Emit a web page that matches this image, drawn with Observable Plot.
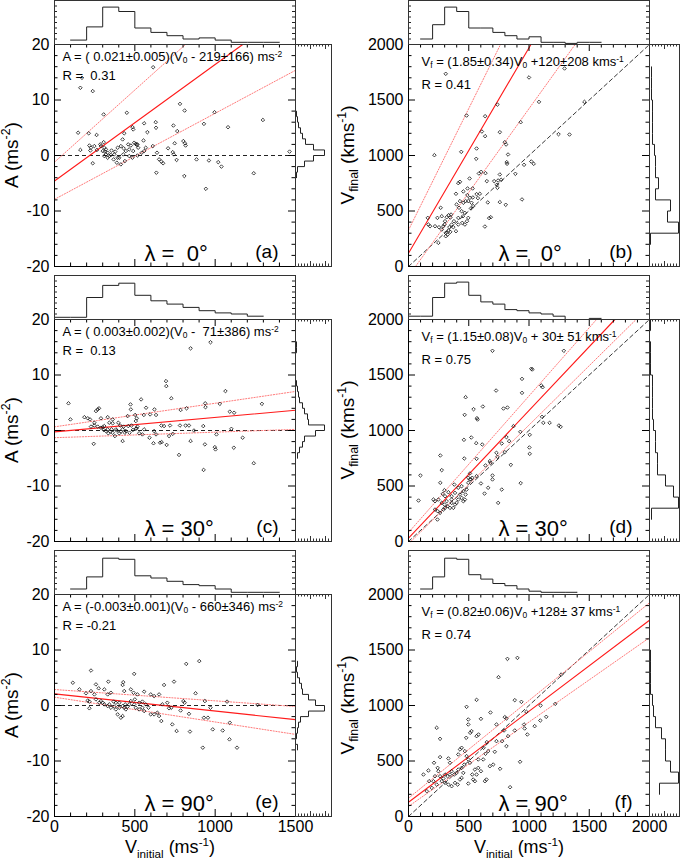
<!DOCTYPE html>
<html><head><meta charset="utf-8">
<script src="https://cdn.jsdelivr.net/npm/d3@7"></script>
<script src="https://cdn.jsdelivr.net/npm/@observablehq/plot@0.6"></script>
<style>
body{margin:0;background:#fff;}
#fig{position:relative;width:685px;height:859px;overflow:hidden;font-family:"Liberation Sans",Arial,Helvetica,sans-serif;color:#000;background:#fff;}
#fig svg{position:absolute;overflow:visible;background:transparent;}
.lab{position:absolute;white-space:nowrap;font-size:19px;line-height:1;transform:translate(-50%,-50%);}
.lab.xt{font-size:18px;}
.rot{transform:translate(-50%,-50%) rotate(-90deg);}
.lab sub,.lab sup{font-size:65%;line-height:0;}
</style></head><body><div id="fig"></div><script>
// ---------------- DATA ----------------
// scatter points [V_initial, value]
const pts_a = [[171,14.0],[161,12.2],[238,11.6],[614,15.9],[306,7.4],[450,7.7],[781,9.3],[810,8.1],[996,7.8],[1297,6.4],[147,4.1],[213,4.0],[262,3.7],[161,1.0],[217,1.8],[238,-1.4],[930,5.7],[1080,5.1],[1463,0.7],[558,5.8],[630,6.0],[486,5.1],[490,4.7],[740,5.4],[764,4.4],[632,5.0],[578,4.2],[434,4.0],[554,2.7],[424,2.9],[802,2.6],[812,2.2],[816,1.8],[748,2.2],[707,1.3],[736,0.6],[742,0.2],[760,-0.8],[638,0.5],[612,1.7],[651,-0.7],[665,-1.1],[676,-1.4],[634,-3.1],[808,-3.7],[884,-0.7],[961,-0.9],[1019,-1.2],[1039,-2.0],[942,-6.0],[1240,-3.2],[516,2.0],[506,2.1],[512,1.9],[475,1.8],[465,1.1],[490,0.8],[558,0.8],[543,0.5],[516,0.0],[485,-0.4],[465,-0.1],[438,-1.0],[413,-1.6],[388,-1.3],[403,-0.4],[428,0.2],[444,0.8],[372,0.2],[351,0.1],[331,-0.4],[314,0.7],[310,1.4],[320,1.1],[300,0.8],[289,1.7],[306,2.4],[285,2.0],[264,1.0],[248,1.7],[227,1.4],[223,0.9],[320,0.2],[331,0.5],[341,-0.1],[310,-0.1],[355,0.9],[378,0.7],[393,1.4],[413,1.7],[430,1.3],[459,2.0],[496,2.3],[521,1.4],[568,1.4],[393,-0.4],[368,-0.7]];
const pts_b = [[309,1736],[1000,1703],[1295,1784],[1083,1483],[1460,1483],[738,1459],[482,1360],[636,1354],[931,1300],[609,1216],[636,1174],[758,1210],[799,1120],[810,1099],[1245,1192],[1336,1189],[215,1003],[438,1033],[565,1063],[826,1009],[562,970],[815,940],[818,925],[1019,946],[1039,925],[959,916],[887,835],[603,853],[639,841],[584,838],[507,793],[427,763],[413,751],[650,769],[758,829],[711,769],[744,775],[733,736],[769,781],[738,709],[490,703],[532,703],[455,676],[394,655],[565,652],[592,655],[488,643],[510,619],[534,622],[576,616],[758,580],[658,577],[807,556],[942,604],[683,444],[669,436],[634,360],[485,408],[452,453],[496,438],[468,483],[441,498],[419,529],[399,559],[427,589],[455,574],[474,589],[496,589],[523,574],[537,544],[518,523],[413,438],[377,408],[358,378],[347,441],[353,468],[333,462],[317,444],[303,408],[276,453],[267,529],[240,438],[220,363],[179,363],[160,438],[165,378],[253,354],[276,333],[289,363],[309,303],[325,288],[331,324],[347,312],[309,273],[248,213],[372,354],[394,318],[413,378],[446,393],[468,378],[339,354],[298,378]];
const pts_c = [[847,14.8],[971,15.9],[87,4.9],[99,2.0],[694,8.9],[696,8.0],[727,5.8],[539,5.6],[473,4.7],[570,4.1],[622,3.8],[785,3.7],[822,4.0],[938,4.9],[940,4.2],[1029,4.8],[1064,7.1],[1091,3.4],[1118,3.2],[1291,4.8],[277,4.0],[269,3.8],[258,3.5],[186,2.4],[207,2.2],[221,2.0],[289,2.2],[331,2.4],[362,2.0],[455,2.6],[502,2.8],[506,1.7],[512,2.2],[595,2.9],[556,2.8],[632,2.8],[475,3.8],[244,-2.4],[424,-1.9],[616,-2.3],[657,-2.2],[667,-2.1],[698,-2.6],[713,-1.0],[736,-0.6],[775,-4.4],[847,-1.9],[936,-2.5],[998,-3.0],[1002,-3.4],[1116,-3.1],[1171,-1.3],[928,-7.1],[1240,-5.9],[1008,-0.7],[1101,0.3],[665,0.9],[682,0.8],[719,0.9],[781,0.9],[816,0.9],[837,0.9],[868,0.0],[926,0.8],[620,-0.1],[632,-0.7],[591,-1.3],[558,0.2],[547,-0.7],[527,-0.5],[516,0.7],[506,0.3],[488,0.1],[510,0.4],[479,0.9],[459,0.8],[444,-0.1],[438,-0.4],[424,0.2],[413,-0.2],[403,-0.5],[388,0.0],[376,-1.0],[382,0.2],[362,-0.4],[347,-0.2],[331,0.2],[320,-0.1],[306,0.1],[300,0.6],[310,0.8],[289,0.5],[269,0.7],[248,0.9],[227,0.7],[335,-0.5],[355,0.2],[430,0.7],[409,0.9],[397,1.4],[362,1.3],[341,1.4],[248,1.4],[467,-0.4]];
const pts_d = [[697,1718],[1289,1718],[1019,1556],[1028,1550],[942,1465],[1102,1405],[1113,1390],[942,1339],[727,1360],[474,1300],[540,1192],[617,1216],[788,1198],[821,1207],[466,1141],[568,1111],[573,1099],[871,1039],[1108,1123],[1119,1069],[1171,1069],[1248,1045],[1262,1033],[928,988],[1006,961],[813,940],[521,937],[460,916],[562,886],[612,874],[774,883],[835,904],[1003,847],[1006,790],[264,775],[463,748],[565,745],[675,724],[680,709],[639,685],[730,799],[738,763],[799,805],[849,691],[276,643],[99,595],[510,613],[518,559],[565,589],[601,523],[697,595],[697,559],[631,432],[661,484],[744,348],[774,468],[931,526],[264,529],[83,369],[240,198],[298,462],[284,429],[303,408],[331,444],[358,408],[386,438],[380,513],[413,484],[441,498],[455,453],[482,468],[496,529],[474,423],[427,423],[413,378],[399,348],[358,348],[344,303],[325,318],[303,303],[276,348],[248,378],[220,363],[207,378],[220,288],[242,273],[262,258],[289,288],[317,363],[358,378],[372,303],[386,333],[441,393],[455,363],[510,559],[529,574],[496,574],[468,378],[298,333]];
const pts_e = [[820,7.5],[901,8.0],[227,6.3],[496,5.7],[114,4.1],[258,3.8],[335,4.3],[428,4.2],[558,2.5],[682,3.7],[744,4.3],[878,2.2],[1074,0.7],[1264,0.1],[155,2.9],[196,2.2],[227,2.6],[248,2.0],[275,3.1],[310,2.9],[331,2.0],[351,2.3],[424,3.7],[434,2.6],[475,2.9],[492,2.3],[516,2.0],[599,2.0],[620,1.7],[651,2.0],[217,0.7],[207,0.9],[217,-0.5],[300,0.5],[310,0.2],[331,-0.1],[341,0.2],[351,-0.4],[372,-0.2],[382,-0.7],[393,-1.6],[413,-2.2],[424,-1.9],[403,-0.4],[434,-0.4],[444,-0.7],[455,-0.2],[465,0.2],[475,0.8],[500,1.1],[506,-0.4],[527,-0.7],[547,-0.4],[568,0.2],[585,-0.4],[599,-1.6],[620,-1.6],[640,-1.3],[651,-1.9],[665,-2.8],[713,-0.5],[727,-0.4],[733,-3.4],[760,-4.6],[785,-0.9],[802,0.8],[810,0.5],[837,-1.5],[843,-4.7],[930,-2.2],[955,-2.2],[971,-0.4],[985,-4.3],[1047,-4.5],[1091,-3.1],[1089,-6.1],[923,-7.6],[1136,-7.6],[936,0.8],[702,0.5],[671,0.2],[558,-1.0],[547,0.7],[527,0.5],[496,0.2],[368,0.7],[382,0.5],[279,0.5],[258,1.1],[289,0.8],[403,0.5],[424,-0.1],[440,0.2]];
const pts_f = [[821,1420],[904,1429],[747,1255],[1267,1279],[1218,1015],[882,1048],[937,1033],[1096,1000],[565,1051],[482,988],[680,937],[496,874],[496,829],[601,880],[799,895],[813,883],[978,943],[1047,814],[1094,865],[1143,898],[234,799],[262,700],[479,709],[512,754],[523,769],[565,724],[581,739],[730,829],[793,775],[826,724],[882,775],[959,829],[964,793],[986,739],[650,670],[623,619],[639,565],[716,583],[730,679],[777,679],[813,634],[760,430],[926,493],[843,264],[124,378],[165,414],[212,484],[242,438],[262,535],[331,523],[344,484],[413,559],[427,604],[441,619],[468,589],[482,544],[496,514],[510,484],[463,468],[441,438],[455,393],[413,423],[399,393],[380,378],[358,408],[344,378],[325,363],[303,378],[289,342],[276,318],[303,303],[331,288],[358,273],[386,303],[408,288],[427,333],[441,348],[496,297],[551,423],[579,438],[601,408],[634,318],[647,333],[220,363],[207,318],[234,288],[193,258],[152,228],[171,318],[262,363],[248,408],[529,378],[537,333],[551,318],[565,378],[579,514],[620,514],[675,453],[703,468],[661,589]];

// fitted lines [slope, intercept]: fit, upper bound, lower bound
const fit_a = [[0.021,-4.6],[0.026,-1.2],[0.0155,-7.9]];
const fit_b = [[1.85,120],[2.19,328],[1.51,-88]];
const fit_c = [[0.0026,-0.25],[0.00425,0.66],[0.001,-1.3]];
const fit_d = [[1.15,30],[1.23,81],[1.07,-21]];
const fit_e = [[-0.0031,2.1],[-0.00204,2.88],[-0.00447,1.5]];
const fit_f = [[0.82,128],[0.88,165],[0.76,91]];

// top histograms of V_initial (bin width 100)
const histTop_a = {start:100, width:100, counts:[4,16,34,30,15,11,8,5,6,4,2,2,2]};
const histTop_b = {start:100, width:100, counts:[5,18,34,30,15,15,11,8,5,7,2,2,1,2,2]};
const histTop_c = {start:0, width:100, counts:[2,2,20,31,33,22,17,14,11,8,6,5,3]};
const histTop_d = {start:0, width:100, counts:[3,3,20,33,34,22,16,14,9,8,6,5,3,0,0,1]};
const histTop_e = {start:100, width:100, counts:[5,16,33,32,17,15,12,9,8,5,2,2,2]};
const histTop_f = {start:100, width:100, counts:[5,16,33,32,18,14,10,8,5,3,2,2,2]};
// right histograms (A: bin 1 ms^-2, V_final: bin 100 km/s)
const histRight_a = {start:-4, width:1, counts:[1,2,9,18,29,18,10,7,5,3,2,1]};
const histRight_b = {start:200, width:100, counts:[1,29,18,21,6,9,6,6,5,3,3,3,3,2,2,2]};
const histRight_c = {start:-5, width:1, counts:[2,4,7,9,20,29,13,12,9,7,4,3,2,1,0,0,0,0,0,1,1]};
const histRight_d = {start:200, width:100, counts:[2,29,24,16,8,8,6,6,4,3,3,3,3,1,1,1,0,1]};
const histRight_e = {start:-8, width:1, counts:[2,0,1,2,3,5,13,29,20,13,7,6,4,2,1,2]};
const histRight_f = {start:200, width:100, counts:[10,29,21,16,16,12,6,4,3,1,1,1,1]};

// texts
const eq_a = "A = ( 0.021±0.005)(V_{0} - 219±166) ms^{-2}", r_a = "R =  0.31";
const eq_b = "V_{f} = (1.85±0.34)V_{0} +120±208 kms^{-1}", r_b = "R = 0.41";
const eq_c = "A = ( 0.003±0.002)(V_{0} -  71±386) ms^{-2}", r_c = "R =  0.13";
const eq_d = "V_{f} = (1.15±0.08)V_{0} + 30± 51 kms^{-1}", r_d = "R = 0.75";
const eq_e = "A = (-0.003±0.001)(V_{0} - 660±346) ms^{-2}", r_e = "R = -0.21";
const eq_f = "V_{f} = (0.82±0.06)V_{0} +128± 37 kms^{-1}", r_f = "R = 0.74";
const lambdas = ["λ =  0°", "λ = 30°", "λ = 90°"];
const tags = ["(a)","(b)","(c)","(d)","(e)","(f)"];
const yTicksA = [-20,-10,0,10,20], yTicksV = [0,500,1000,1500,2000];
const xTicksL = [0,500,1000,1500], xTicksR = [0,500,1000,1500,2000];
const yTitleA = "A (ms<sup>-2</sup>)", yTitleV = "V<sub>final</sub> (kms<sup>-1</sup>)";
const xTitle = "V<sub>initial</sub> (ms<sup>-1</sup>)";

// ---------------- LAYOUT ----------------
const fig = document.getElementById("fig");
const FONT = '"Liberation Sans", Arial, Helvetica, sans-serif';
const PW = 241, PH = 222, HH = 44;
const COLS = [
  {left:54, histW:36, hMax:36, xmax:1500, xTicks:xTicksL, yDom:[-20,20], yTicks:yTicksA, yMinor:2, yMajor:10, kind:"A", eqDx:8, eqDy:16, rDy:35, yTitleX:11},
  {left:408, histW:30, hMax:30, xmax:2000, xTicks:xTicksR, yDom:[0,2000], yTicks:yTicksV, yMinor:100, yMajor:500, kind:"V", eqDx:13, eqDy:21, rDy:44, yTitleX:347}
];
const ROWS = [44, 319, 594];
const DIAMOND = d3.symbolDiamond2 || "diamond";
const baseStyle = {background:"transparent", overflow:"visible", fontFamily:FONT, color:"#000"};

function range(a,b,s){const r=[];for(let i=0;a+i*s<=b+1e-9;i++)r.push(+(a+i*s).toFixed(6));return r;}
function place(node,left,top){node.style.position="absolute";node.style.left=left+"px";node.style.top=top+"px";fig.appendChild(node);}
function segment([m,b],x0,x1,y0,y1){
  let xa=x0,xb=x1;
  if(m!==0){const xs=[(y0-b)/m,(y1-b)/m].sort((p,q)=>p-q);xa=Math.max(xa,xs[0]);xb=Math.min(xb,xs[1]);}
  return [{x:xa,y:m*xa+b},{x:xb,y:m*xb+b}];
}
function edgeTicksX(vals,len,W,H,stroke){ // ticks on bottom and top edges
  return [Plot.tickX(vals,{x:d=>d,insetTop:H-len,stroke,strokeWidth:1}),
          Plot.tickX(vals,{x:d=>d,insetBottom:H-len,stroke,strokeWidth:1})];
}
function edgeTicksY(vals,len,W,H,stroke){ // ticks on left and right edges
  return [Plot.tickY(vals,{y:d=>d,insetRight:W-len,stroke,strokeWidth:1}),
          Plot.tickY(vals,{y:d=>d,insetLeft:W-len,stroke,strokeWidth:1})];
}
function steps(h){
  const pts=h.counts.map((c,i)=>({e:h.start+i*h.width,c}));
  pts.push({e:h.start+h.counts.length*h.width,c:h.counts[h.counts.length-1]});
  return pts;
}

const panels = [
  {col:0,row:0,pts:pts_a,fit:fit_a,eq:eq_a,r:r_a,top:histTop_a,right:histRight_a},
  {col:1,row:0,pts:pts_b,fit:fit_b,eq:eq_b,r:r_b,top:histTop_b,right:histRight_b},
  {col:0,row:1,pts:pts_c,fit:fit_c,eq:eq_c,r:r_c,top:histTop_c,right:histRight_c},
  {col:1,row:1,pts:pts_d,fit:fit_d,eq:eq_d,r:r_d,top:histTop_d,right:histRight_d},
  {col:0,row:2,pts:pts_e,fit:fit_e,eq:eq_e,r:r_e,top:histTop_e,right:histRight_e},
  {col:1,row:2,pts:pts_f,fit:fit_f,eq:eq_f,r:r_f,top:histTop_f,right:histRight_f}
];

panels.forEach((p,i)=>{
  const C=COLS[p.col], top=ROWS[p.row];
  const [y0,y1]=C.yDom;
  const xMinor=range(0,C.xmax,100).filter(v=>v%500!==0), xMajor=range(0,C.xmax,500);
  const yMinor=range(y0,y1,C.yMinor).filter(v=>Math.abs(v%C.yMajor)>1e-9), yMajor=range(y0,y1,C.yMajor);
  const refMark = C.kind==="A"
    ? Plot.ruleY([0],{stroke:"#222",strokeWidth:1,strokeDasharray:"4,3"})
    : Plot.line([0,C.xmax],{x:d=>d,y:d=>d,stroke:"#222",strokeWidth:0.9,strokeDasharray:"4,3"});
  const [fit,hi,lo]=p.fit;
  const marks=[
    refMark,
    Plot.line(segment(hi,0,C.xmax,y0,y1),{x:"x",y:"y",stroke:"#ff7b7b",strokeWidth:1,strokeDasharray:"1.2,1.6"}),
    Plot.line(segment(lo,0,C.xmax,y0,y1),{x:"x",y:"y",stroke:"#ff7b7b",strokeWidth:1,strokeDasharray:"1.2,1.6"}),
    Plot.line(segment(fit,0,C.xmax,y0,y1),{x:"x",y:"y",stroke:"#ff1a1a",strokeWidth:1.1}),
    Plot.dot(p.pts,{x:d=>d[0],y:d=>d[1],symbol:DIAMOND,r:1.6,stroke:"#111",strokeWidth:0.8,fill:"none"}),
    ...edgeTicksX(xMinor,3.5,PW,PH,"#000"), ...edgeTicksX(xMajor,7,PW,PH,"#000"),
    ...edgeTicksY(yMinor,3.5,PW,PH,"#000"), ...edgeTicksY(yMajor,7,PW,PH,"#000"),
    Plot.frame({stroke:"#000",strokeWidth:1}),
    Plot.text([p.eq],{text:d=>d,frameAnchor:"top-left",textAnchor:"start",lineAnchor:"bottom",dx:C.eqDx,dy:C.eqDy,fontSize:13}),
    Plot.text([p.r],{text:d=>d,frameAnchor:"top-left",textAnchor:"start",lineAnchor:"bottom",dx:C.eqDx,dy:C.rDy,fontSize:13}),
    Plot.text([lambdas[p.row]],{text:d=>d,frameAnchor:"bottom-left",textAnchor:"start",lineAnchor:"bottom",dx:90,dy:-6,fontSize:22}),
    Plot.text([tags[i]],{text:d=>d,frameAnchor:"bottom-right",textAnchor:"end",lineAnchor:"bottom",dx:-17,dy:-9,fontSize:19}),
    Plot.text(C.yTicks,{y:d=>d,text:d=>String(d),frameAnchor:"left",textAnchor:"end",lineAnchor:"middle",dx:-5,fontSize:16})
  ];
  if(p.row===2){
    const last=C.xTicks[C.xTicks.length-1];
    marks.push(Plot.text(C.xTicks,{x:d=>d,text:d=>String(d),frameAnchor:"bottom",
      textAnchor:d=>(p.col===1&&d===last)?"start":"middle",lineAnchor:"top",dy:4,fontSize:16}));
  }
  const svg=Plot.plot({width:PW,height:PH,margin:0,style:baseStyle,
    x:{domain:[0,C.xmax],axis:null},y:{domain:C.yDom,axis:null},marks});
  place(svg,C.left,top);

  // top histogram
  const th=Plot.plot({width:PW,height:HH,margin:0,style:baseStyle,
    x:{domain:[0,C.xmax],axis:null},y:{domain:[0,40],axis:null},
    marks:[
      Plot.line(steps(p.top),{x:"e",y:"c",curve:"step-after",stroke:"#222",strokeWidth:1}),
      ...edgeTicksY(range(5,35,5),3,PW,HH,"#222"),
      Plot.frame({stroke:"#333",strokeWidth:1})
    ]});
  place(th,C.left,top-HH);

  // right histogram
  const rh=Plot.plot({width:C.histW,height:PH,margin:0,style:baseStyle,
    x:{domain:[0,C.hMax],axis:null},y:{domain:C.yDom,axis:null},
    marks:[
      Plot.line(steps(p.right),{x:"c",y:"e",curve:"step-before",stroke:"#222",strokeWidth:1}),
      ...edgeTicksX(range(3,C.hMax-1,3),2.5,C.histW,PH,"#333"),
      ...edgeTicksX(range(15,C.hMax-1,15),5,C.histW,PH,"#333"),
      Plot.frame({stroke:"#333",strokeWidth:1})
    ]});
  place(rh,C.left+PW,top);
});

// axis titles (HTML)
function label(html,x,y,cls){const d=document.createElement("div");d.className="lab "+cls;d.innerHTML=html;d.style.left=x+"px";d.style.top=y+"px";fig.appendChild(d);}
ROWS.forEach(t=>{label(yTitleA,COLS[0].yTitleX,t+PH/2,"rot");label(yTitleV,COLS[1].yTitleX,t+PH/2,"rot");});
label(xTitle,170,846.5,"xt");
label(xTitle,519,846.5,"xt");

// rich text: _{..} subscript, ^{..} superscript
const NS="http://www.w3.org/2000/svg";
fig.querySelectorAll("svg text").forEach(el=>{
  const s=el.textContent;
  if(!/[_^]\{/.test(s))return;
  el.textContent="";
  const re=/([_^])\{([^}]*)\}/g;let last=0,m;
  const add=(t,mode)=>{const ts=document.createElementNS(NS,"tspan");ts.textContent=t;
    if(mode){ts.setAttribute("font-size","65%");ts.setAttribute("baseline-shift",mode>0?"-22%":"45%");}
    el.appendChild(ts);};
  while((m=re.exec(s))){if(m.index>last)add(s.slice(last,m.index),0);add(m[2],m[1]==="_"?1:-1);last=re.lastIndex;}
  if(last<s.length)add(s.slice(last),0);
});
</script></body></html>
